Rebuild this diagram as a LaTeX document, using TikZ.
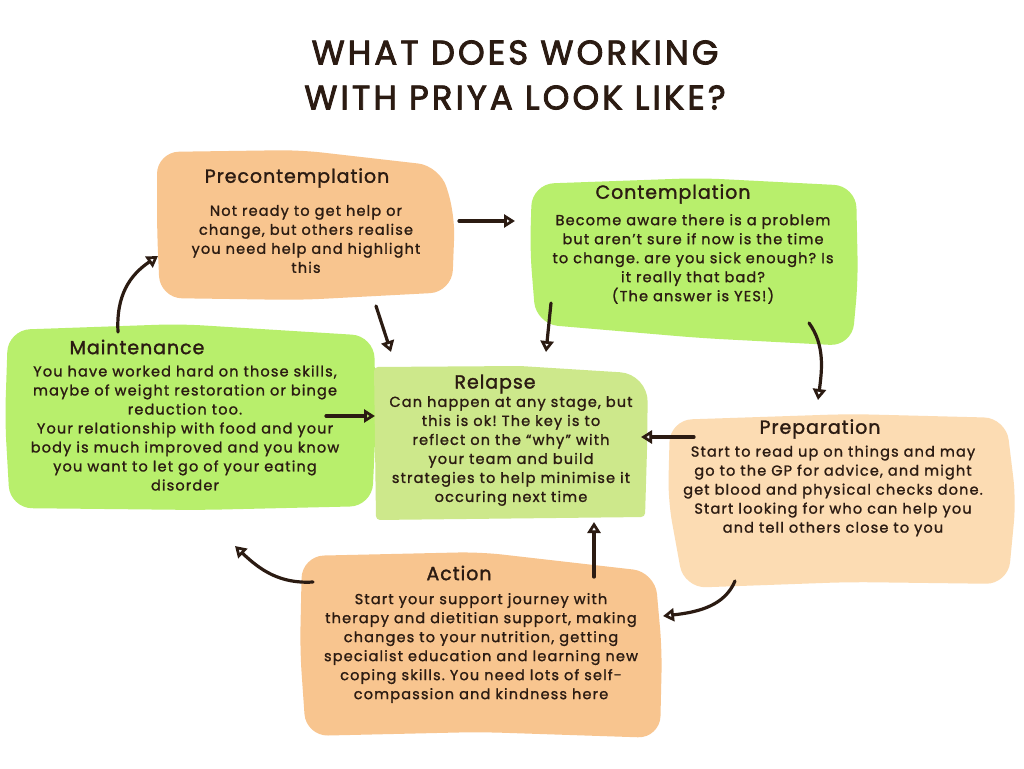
\documentclass[tikz,border=0pt]{standalone}
\usepackage{fontspec}
\setmainfont{Poppins}
\frenchspacing
\usetikzlibrary{arrows.meta}
\definecolor{ink}{HTML}{2B1B12}
\definecolor{orng}{HTML}{F8C58F}
\definecolor{lorng}{HTML}{FCDCB3}
\definecolor{grn}{HTML}{B8EF6C}
\definecolor{rgrn}{HTML}{CDE88B}
\tikzset{
  blob/.style={rounded corners=22pt},
  head/.style={text=ink, font=\fontsize{19}{22}\selectfont\addfontfeatures{LetterSpace=5,FakeBold=1.6}, inner sep=0pt},
  body/.style={text=ink, align=center, font=\fontsize{14.5}{19}\selectfont\addfontfeatures{LetterSpace=8,FakeBold=1.3}, inner sep=0pt},
  conn/.style={draw=ink, line width=3.2pt, line cap=round, -{Triangle[open, length=11pt, width=13pt, line width=2.8pt]}},
}
\begin{document}
\begin{tikzpicture}[x=1pt,y=-1pt]
\useasboundingbox (0,0) rectangle (1024,768);
\fill[white] (0,0) rectangle (1024,768);
% title
\node[text=ink, align=center, font=\fontsize{34}{45}\selectfont\addfontfeatures{LetterSpace=9,FakeBold=2.5}, inner sep=0pt] (title) at (515,75)
  {WHAT DOES WORKING\\WITH PRIYA LOOK LIKE?};
% shapes
\fill[orng, blob] (157,152) -- (300,150) -- (440,166) -- (455,215) -- (452,292) -- (300,300) -- (160,298) -- (157,230) -- cycle;
\fill[grn, blob] (532,184) -- (700,178) -- (856,186) -- (858,280) -- (852,346) -- (700,338) -- (536,324) -- (530,250) -- cycle;
\fill[grn, blob] (8,330) -- (180,324) -- (374,336) -- (376,420) -- (372,506) -- (200,510) -- (10,508) -- (5,420) -- cycle;
\fill[rgrn, rounded corners=4pt] (374,367) -- (520,366) [rounded corners=28pt]-- (648,374) [rounded corners=4pt]-- (647,450) -- (645,517) -- (376,520) -- cycle;
\fill[lorng, blob] (670,420) -- (850,414) -- (1006,418) -- (1016,500) -- (1008,584) -- (850,582) -- (684,588) -- (668,500) -- cycle;
\fill[orng, blob] (302,556) -- (480,552) -- (655,572) -- (662,650) -- (660,738) -- (480,732) -- (306,736) -- (300,650) -- cycle;
% texts
\node[head] (preh) at (297,178) {Precontemplation};
\node[body] (pre) at (306,239) {Not ready to get help or\\change, but others realise\\you need help and highlight\\this};
\node[head] (conh) at (673,194) {Contemplation};
\node[body] (con) at (693,259) {Become aware there is a problem\\but aren’t sure if now is the time\\to change. are you sick enough? Is\\it really that bad?\\(The answer is YES!)};
\node[head] (mainh) at (137,347) {Maintenance};
\node[body] (main) at (185,428) {You have worked hard on those skills,\\maybe of weight restoration or binge\\reduction too.\\Your relationship with food and your\\body is much improved and you know\\you want to let go of your eating\\disorder};
\node[head] (relh) at (495,384) {Relapse};
\node[body] (rel) at (511,451) {Can happen at any stage, but\\this is ok! The key is to\\reflect on the “why” with\\your team and build\\strategies to help minimise it\\occuring next time};
\node[head] (preph) at (820,429) {Preparation};
\node[body] (prep) at (833,491) {Start to read up on things and may\\go to the GP for advice, and might\\get blood and physical checks done.\\Start looking for who can help you\\and tell others close to you};
\node[head] (acth) at (459,573) {Action};
\node[body] (act) at (481,648) {Start your support journey with\\therapy and dietitian support, making\\changes to your nutrition, getting\\specialist education and learning new\\coping skills. You need lots of self-\\compassion and kindness here};
% connector ends
\coordinate (a1) at (459,221); \coordinate (b1) at (515,221);
\coordinate (a2) at (118,332); \coordinate (b2) at (158,256);
\coordinate (a3) at (376,306); \coordinate (b3) at (391,352);
\coordinate (a4) at (551,303); \coordinate (b4) at (546,352);
\coordinate (a5) at (809,323); \coordinate (b5) at (818,400);
\coordinate (a6) at (326,416); \coordinate (b6) at (375,416);
\coordinate (a7) at (694,437); \coordinate (b7) at (641,437);
\coordinate (a8) at (594,577); \coordinate (b8) at (594,522);
\coordinate (a9) at (735,581); \coordinate (b9) at (663,616);
\coordinate (a10) at (313,582); \coordinate (b10) at (235,546);
% connectors
\draw[conn] (a1) -- (b1);
\draw[conn] (a2) .. controls (116,295) and (130,275) .. (b2);
\draw[conn] (a3) -- (b3);
\draw[conn] (a4) -- (b4);
\draw[conn] (a5) .. controls (825,345) and (822,370) .. (b5);
\draw[conn] (a6) -- (b6);
\draw[conn] (a7) -- (b7);
\draw[conn] (a8) -- (b8);
\draw[conn] (a9) .. controls (725,605) and (700,612) .. (b9);
\draw[conn] (a10) .. controls (280,584) and (260,570) .. (b10);
\end{tikzpicture}
\end{document}
